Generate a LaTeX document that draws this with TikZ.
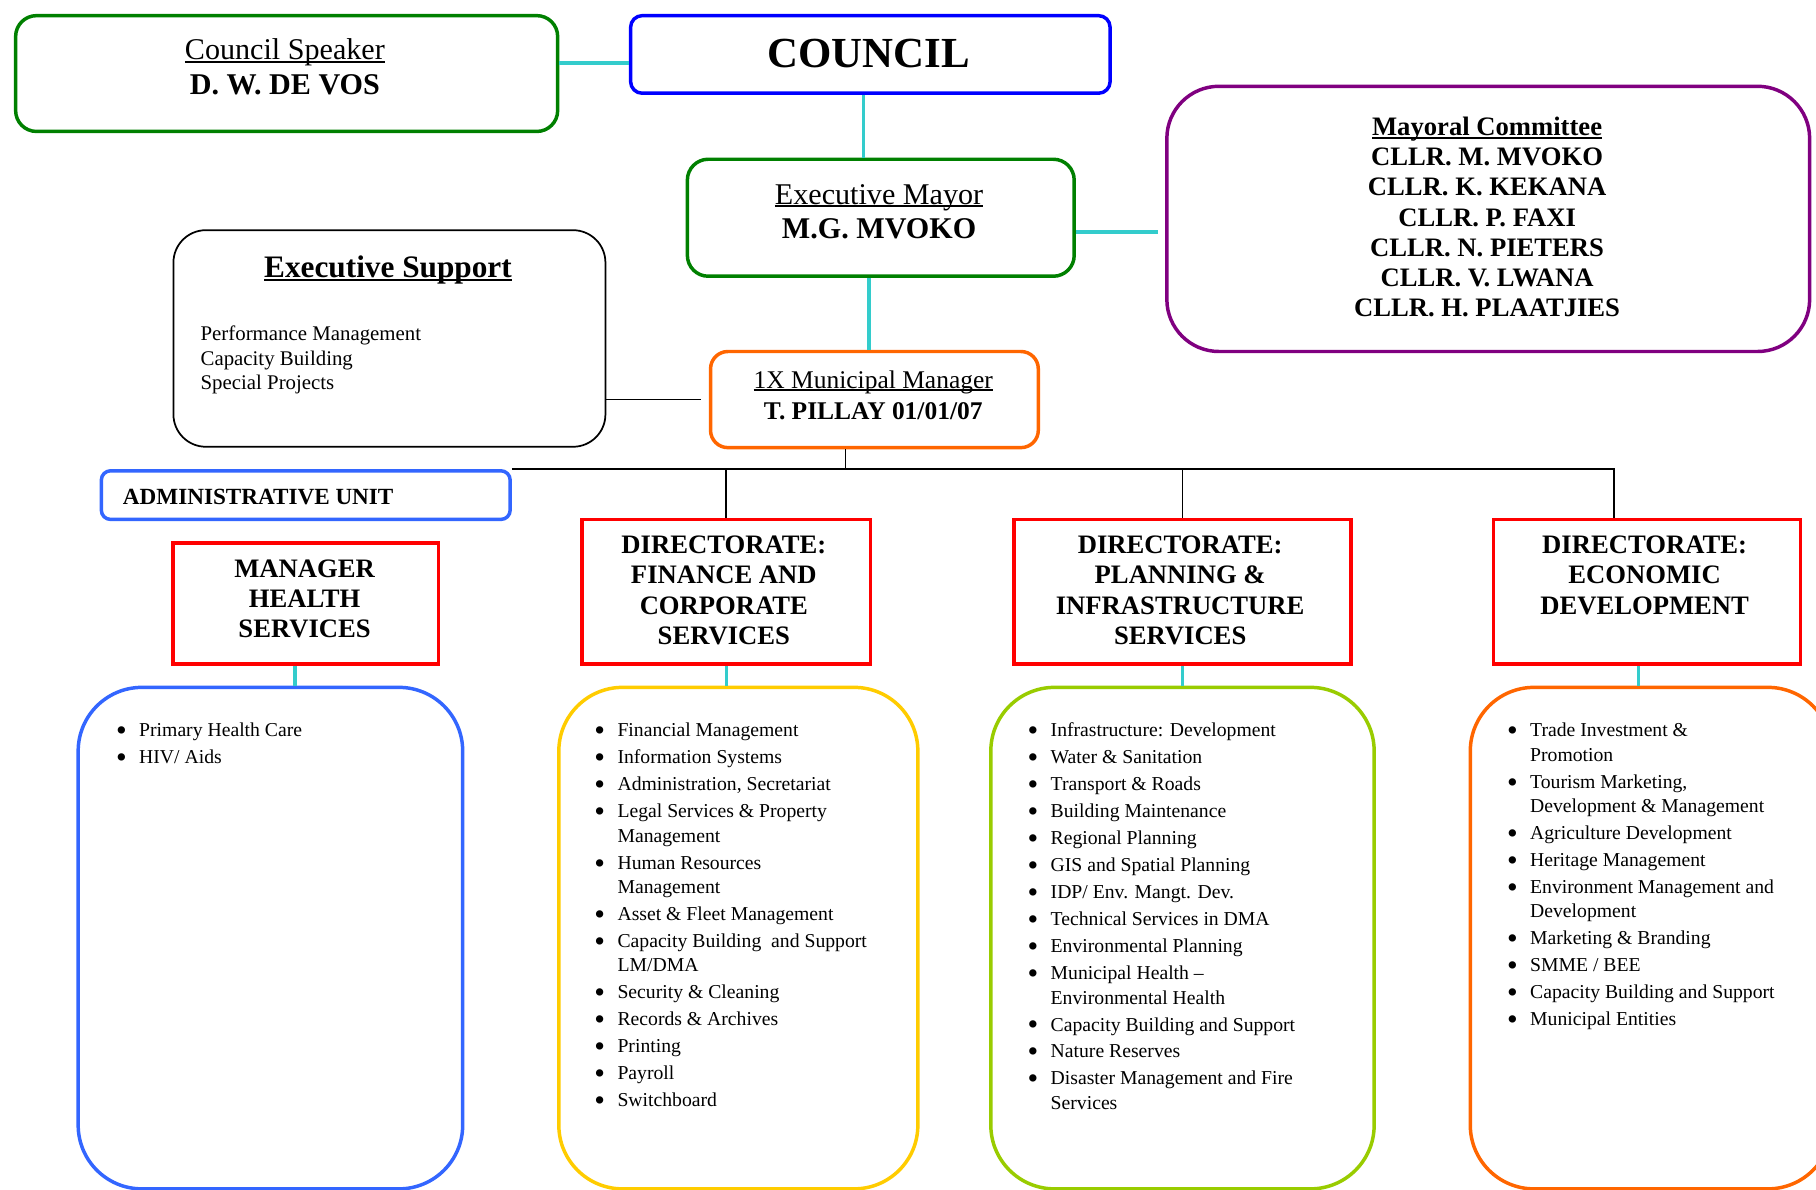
\documentclass[tikz,border=0pt]{standalone}
\usepackage{fontspec}
\setmainfont{Liberation Serif}
\usetikzlibrary{calc}

\definecolor{boxgreen}{RGB}{0,128,0}
\definecolor{boxblue}{RGB}{0,0,255}
\definecolor{boxpurple}{RGB}{128,0,128}
\definecolor{linkcyan}{RGB}{51,204,204}
\definecolor{boxorange}{RGB}{255,102,0}
\definecolor{boxred}{RGB}{255,0,0}
\definecolor{unitblue}{RGB}{51,102,255}
\definecolor{boxyellow}{RGB}{255,204,0}
\definecolor{boxlime}{RGB}{153,204,0}

% underline sitting just below the baseline
\newcommand\ulin[1]{\setbox0\hbox{#1}\rlap{\rule[-0.11em]{\wd0}{0.065em}}\box0}
% bullet and hanging indent for the duty lists
\newcommand\bul{\makebox[20pt][l]{\raisebox{-0.2em}{\scalebox{1.55}{\textbullet}}}}
\newcommand\cont{\makebox[20pt]{}}

\begin{document}
\begin{tikzpicture}[x=1pt, y=-1pt,
  box/.style={line width=3pt, inner sep=0pt, anchor=north west},
  head/.style={box, draw=boxred, line width=3.2pt},
  link/.style={draw=linkcyan, line width=3pt},
  wire/.style={draw=black, line width=1.5pt},
  txt/.style={inner sep=0pt, align=center, anchor=north},
  headtxt/.style={txt, font=\fontsize{23}{26}\selectfont\bfseries},
  listtxt/.style={inner sep=0pt, align=left, anchor=north west, font=\fontsize{17}{21}\selectfont},
]
\useasboundingbox (0,0) rectangle (1568,1027);
\fill[white] (0,0) rectangle (1568,1027);

% ---------- council level ----------
\node[box, draw=boxgreen, rounded corners=18pt, minimum width=468pt, minimum height=100pt] (speaker) at (12,12) {};
\node[txt, font=\fontsize{26}{30}\selectfont] (speakerT) at (246,30)
  {\strut\ulin{Council Speaker}\\\strut\textbf{D. W. DE VOS}};

\node[box, draw=boxblue, rounded corners=10pt, minimum width=414pt, minimum height=67pt] (council) at (543,12) {};
\node[inner sep=0pt, anchor=base, font=\fontsize{37}{40}\selectfont\bfseries] (councilT) at (750,58) {COUNCIL};

\node[box, draw=boxgreen, rounded corners=18pt, minimum width=334pt, minimum height=101pt] (mayor) at (592,136) {};
\node[txt, font=\fontsize{26}{30}\selectfont] (mayorT) at (759,155)
  {\strut\ulin{Executive Mayor}\\\strut\textbf{M.G. MVOKO}};

\node[box, draw=boxpurple, rounded corners=45pt, minimum width=555pt, minimum height=229pt] (committee) at (1006,73) {};
\node[txt, font=\fontsize{23}{26}\selectfont\bfseries] (committeeT) at (1284,98.8)
  {\strut\ulin{Mayoral Committee}\\CLLR. M. MVOKO\\CLLR. K. KEKANA\\CLLR. P. FAXI\\CLLR. N. PIETERS\\CLLR. V. LWANA\\CLLR. H. PLAATJIES};

% ---------- executive support and municipal manager ----------
\node[box, draw=black, line width=1.5pt, rounded corners=28pt, minimum width=373pt, minimum height=187pt] (es) at (149,198) {};
\node[inner sep=0pt, anchor=base, font=\fontsize{27}{30}\selectfont\bfseries] (esT) at (335,240)
  {\ulin{Executive Support}};
\node[listtxt, font=\fontsize{18}{21}\selectfont] (esL) at (173,279.3)
  {\strut Performance Management\\Capacity Building\\Special Projects};

\node[box, draw=boxorange, rounded corners=15pt, minimum width=283pt, minimum height=83pt] (mm) at (612,302) {};
\node[txt, font=\fontsize{22}{27}\selectfont] (mmT) at (754,316.1)
  {\strut\ulin{1X Municipal Manager}\\\strut\textbf{T. PILLAY 01/01/07}};

\node[box, draw=unitblue, rounded corners=8pt, minimum width=353pt, minimum height=42pt] (admin) at (86,405) {};
\node[inner sep=0pt, anchor=base west, font=\fontsize{20}{24}\selectfont\bfseries] (adminT) at (106,436) {ADMINISTRATIVE UNIT};

% ---------- directorates ----------
\node[head, minimum width=229pt, minimum height=105pt] (healthH) at (148,467) {};
\node[headtxt] (healthHT) at (263,479.8) {\strut MANAGER\\HEALTH\\SERVICES};

\node[head, minimum width=249pt, minimum height=125pt] (finH) at (501,447) {};
\node[headtxt] (finHT) at (625,459.8) {\strut DIRECTORATE:\\FINANCE AND\\CORPORATE\\SERVICES};

\node[head, minimum width=291pt, minimum height=125pt] (planH) at (874,447) {};
\node[headtxt] (planHT) at (1019,459.8) {\strut DIRECTORATE:\\PLANNING \&\\INFRASTRUCTURE\\SERVICES};

\node[head, minimum width=265pt, minimum height=125pt] (econH) at (1288,447) {};
\node[headtxt] (econHT) at (1420,459.8) {\strut DIRECTORATE:\\ECONOMIC\\DEVELOPMENT};

% ---------- duty lists ----------
\node[box, draw=unitblue, rounded corners=55pt, minimum width=332pt, minimum height=433pt] (healthL) at (66,592) {};
\node[listtxt] (healthLT) at (100,621.3)
  {\strut\bul Primary Health Care\\[2.3pt]
   \bul HIV/ Aids};

\node[box, draw=boxyellow, rounded corners=55pt, minimum width=310pt, minimum height=433pt] (finL) at (481,592) {};
\node[listtxt] (finLT) at (513,621.3)
  {\strut\bul Financial Management\\[2.3pt]
   \bul Information Systems\\[2.3pt]
   \bul Administration, Secretariat\\[2.3pt]
   \bul Legal Services \& Property\\
   \cont Management\\[2.3pt]
   \bul Human Resources\\
   \cont Management\\[2.3pt]
   \bul Asset \& Fleet Management\\[2.3pt]
   \bul Capacity Building\ \ and Support\\
   \cont LM/DMA\\[2.3pt]
   \bul Security \& Cleaning\\[2.3pt]
   \bul Records \& Archives\\[2.3pt]
   \bul Printing\\[2.3pt]
   \bul Payroll\\[2.3pt]
   \bul Switchboard};

\node[box, draw=boxlime, rounded corners=55pt, minimum width=331pt, minimum height=433pt] (planL) at (854,592) {};
\node[listtxt] (planLT) at (887,621.3)
  {\strut\bul Infrastructure: Development\\[2.3pt]
   \bul Water \& Sanitation\\[2.3pt]
   \bul Transport \& Roads\\[2.3pt]
   \bul Building Maintenance\\[2.3pt]
   \bul Regional Planning\\[2.3pt]
   \bul GIS and Spatial Planning\\[2.3pt]
   \bul IDP/ Env. Mangt. Dev.\\[2.3pt]
   \bul Technical Services in DMA\\[2.3pt]
   \bul Environmental Planning\\[2.3pt]
   \bul Municipal Health \textendash\\
   \cont Environmental Health\\[2.3pt]
   \bul Capacity Building and Support\\[2.3pt]
   \bul Nature Reserves\\[2.3pt]
   \bul Disaster Management and Fire\\
   \cont Services};

\node[box, draw=boxorange, rounded corners=55pt, minimum width=312pt, minimum height=433pt] (econL) at (1268,592) {};
\node[listtxt] (econLT) at (1301,621.3)
  {\strut\bul Trade Investment \&\\
   \cont Promotion\\[2.3pt]
   \bul Tourism Marketing,\\
   \cont Development \& Management\\[2.3pt]
   \bul Agriculture Development\\[2.3pt]
   \bul Heritage Management\\[2.3pt]
   \bul Environment Management and\\
   \cont Development\\[2.3pt]
   \bul Marketing \& Branding\\[2.3pt]
   \bul SMME / BEE\\[2.3pt]
   \bul Capacity Building and Support\\[2.3pt]
   \bul Municipal Entities};

% ---------- connectors ----------
\path ([yshift=-7.5pt]council.west) coordinate (cw);
\draw[link] (speaker.east |- cw) -- (cw);

\path ([xshift=-6pt]council.south) coordinate (cs);
\draw[link] (cs) -- (cs |- mayor.north);

\path ([yshift=-12.5pt]mayor.east) coordinate (me);
\draw[link, shorten >=6pt] (me) -- (me -| committee.west);

\path ([xshift=-10pt]mayor.south) coordinate (ms);
\draw[link] (ms) -- (ms |- mm.north);

\draw[wire, shorten >=7pt] (es.east |- mm.west) -- (mm.west);

\path ([xshift=-25pt]mm.south) coordinate (mmb);
\path ([xshift=-28.5pt]econH.north) coordinate (ed);
\draw[wire] (mmb) -- (mmb |- admin.north east);
\draw[wire] (admin.north east) -- (admin.north east -| ed) -- (ed);
\draw[wire] (finH.north |- admin.north east) -- (finH.north);
\draw[wire] (planH.north |- admin.north east) -- (planH.north);

\path ([xshift=-9.5pt]healthH.south) coordinate (hs);
\draw[link] (hs) -- (hs |- healthL.north);
\draw[link] (finH.south) -- (finH.south |- finL.north);
\draw[link] (planH.south) -- (planH.south |- planL.north);
\path ([xshift=-7.5pt]econH.south) coordinate (es2);
\draw[link] (es2) -- (es2 |- econL.north);
\end{tikzpicture}
\end{document}
